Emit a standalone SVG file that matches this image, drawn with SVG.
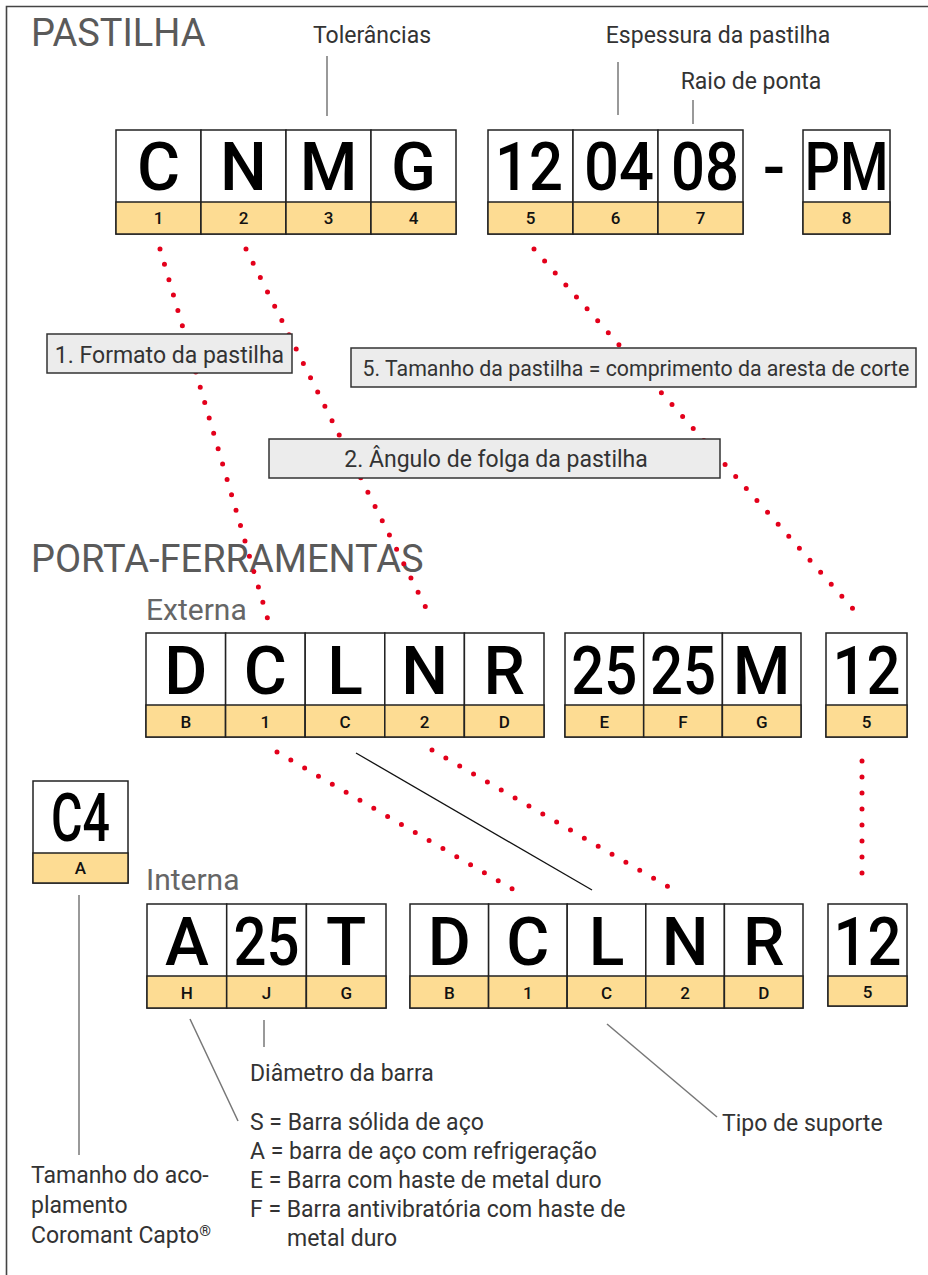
<svg xmlns="http://www.w3.org/2000/svg" width="928" height="1275" viewBox="0 0 928 1275">
<style>
.frame{fill:none;stroke:#444;stroke-width:1.6}
.cell{fill:#fff;stroke:#222;stroke-width:1.5}
.band{fill:#fddc93;stroke:#222;stroke-width:1.5}
.big{font-family:Roboto,"Liberation Sans",sans-serif;font-weight:500;font-size:66px;fill:#000;text-anchor:middle}
.lbl{font-family:Roboto,"Liberation Sans",sans-serif;font-weight:500;font-size:17px;fill:#111;text-anchor:middle}
.title{font-family:Roboto,"Liberation Sans",sans-serif;font-size:38px;fill:#5a5a5a}
.sub{font-family:Roboto,"Liberation Sans",sans-serif;font-size:30px;fill:#666}
.txt{font-family:Roboto,"Liberation Sans",sans-serif;font-size:23px;fill:#333}
.txts{font-family:Roboto,"Liberation Sans",sans-serif;font-size:21.3px;fill:#333}
.mid{text-anchor:middle}
.note{fill:#ececec;stroke:#333;stroke-width:1.5}
.dots{fill:none;stroke:#e3001b;stroke-width:5;stroke-linecap:round;stroke-dasharray:0 16}
.lead{stroke:#777;stroke-width:1.5;fill:none}
.blk{stroke:#111;stroke-width:1.3;fill:none}
</style>
<path class="frame" d="M6.5 1275V6.5H928"/>
<text class="title" x="31" y="46">PASTILHA</text>
<text class="title" x="31" y="572">PORTA-FERRAMENTAS</text>
<text class="sub" x="146" y="620">Externa</text>
<text class="sub" x="146" y="890">Interna</text>
<g id="label-tolerancias"><text class="txt mid" x="372" y="43">Tolerâncias</text></g>
<g id="label-espessura"><text class="txt mid" x="718" y="43">Espessura da pastilha</text></g>
<g id="label-raio"><text class="txt mid" x="751" y="89">Raio de ponta</text></g>

<g id="connectors">
<line class="lead" x1="327" y1="56" x2="327" y2="116"/>
<line class="lead" x1="618" y1="62" x2="618" y2="115"/>
<line class="lead" x1="693" y1="100" x2="693" y2="124"/>
<line class="dots" x1="160" y1="249" x2="268" y2="620"/>
<line class="dots" x1="246" y1="249" x2="432" y2="620"/>
<line class="dots" x1="534" y1="249" x2="863" y2="620"/>
<line class="dots" x1="277" y1="752" x2="514" y2="890"/>
<line class="dots" x1="432" y1="750" x2="674" y2="890"/>
<line class="dots" x1="862" y1="761" x2="862" y2="887"/>
<line class="blk" x1="356" y1="753" x2="592" y2="890"/>
<line class="lead" x1="79" y1="895" x2="79" y2="1155"/>
<line class="lead" x1="190" y1="1019" x2="238" y2="1121"/>
<line class="lead" x1="264" y1="1020" x2="264" y2="1047"/>
<line class="lead" x1="607" y1="1024" x2="717" y2="1117"/>
</g>

<g id="note-1"><rect class="note" x="47" y="334" width="245" height="39"/><text class="txt mid" x="169.5" y="363">1. Formato da pastilha</text></g>
<g id="note-5"><rect class="note" x="351" y="348" width="565" height="39"/><text class="txts mid" x="636" y="376">5. Tamanho da pastilha = comprimento da aresta de corte</text></g>
<g id="note-2"><rect class="note" x="269" y="439" width="451" height="39"/><text class="txt mid" x="496" y="467">2. Ângulo de folga da pastilha</text></g>

<g id="insert-cnmg">
<rect class="cell" x="116" y="130" width="85" height="104"/><rect class="band" x="116" y="202" width="85" height="32"/>
<rect class="cell" x="201" y="130" width="85" height="104"/><rect class="band" x="201" y="202" width="85" height="32"/>
<rect class="cell" x="286" y="130" width="85" height="104"/><rect class="band" x="286" y="202" width="85" height="32"/>
<rect class="cell" x="371" y="130" width="85" height="104"/><rect class="band" x="371" y="202" width="85" height="32"/>
<text class="big" x="158.5" y="190">C</text><text class="big" x="243.5" y="190">N</text><text class="big" x="328.5" y="190">M</text><text class="big" x="413.5" y="190">G</text>
<text class="lbl" x="158.5" y="224">1</text><text class="lbl" x="243.5" y="224">2</text><text class="lbl" x="328.5" y="224">3</text><text class="lbl" x="413.5" y="224">4</text>
</g>
<g id="insert-120408">
<rect class="cell" x="488" y="130" width="85" height="104"/><rect class="band" x="488" y="202" width="85" height="32"/>
<rect class="cell" x="573" y="130" width="85" height="104"/><rect class="band" x="573" y="202" width="85" height="32"/>
<rect class="cell" x="658" y="130" width="85" height="104"/><rect class="band" x="658" y="202" width="85" height="32"/>
<text class="big" x="529" y="190" textLength="68" lengthAdjust="spacingAndGlyphs">12</text><text class="big" x="619" y="190" textLength="70" lengthAdjust="spacingAndGlyphs">04</text><text class="big" x="705" y="190" textLength="68" lengthAdjust="spacingAndGlyphs">08</text>
<text class="lbl" x="530.5" y="224">5</text><text class="lbl" x="615.5" y="224">6</text><text class="lbl" x="700.5" y="224">7</text>
</g>
<g id="dash"><text class="big" x="774" y="190">-</text></g>
<g id="insert-pm">
<rect class="cell" x="803" y="130" width="87" height="104"/><rect class="band" x="803" y="202" width="87" height="32"/>
<text class="big" x="846.5" y="190" textLength="84" lengthAdjust="spacingAndGlyphs">PM</text>
<text class="lbl" x="846.5" y="224">8</text>
</g>

<g id="ext-dclnr">
<rect class="cell" x="146" y="633" width="79.6" height="104"/><rect class="band" x="146" y="705" width="79.6" height="32"/>
<rect class="cell" x="225.6" y="633" width="79.6" height="104"/><rect class="band" x="225.6" y="705" width="79.6" height="32"/>
<rect class="cell" x="305.2" y="633" width="79.6" height="104"/><rect class="band" x="305.2" y="705" width="79.6" height="32"/>
<rect class="cell" x="384.8" y="633" width="79.6" height="104"/><rect class="band" x="384.8" y="705" width="79.6" height="32"/>
<rect class="cell" x="464.4" y="633" width="79.6" height="104"/><rect class="band" x="464.4" y="705" width="79.6" height="32"/>
<text class="big" x="185.8" y="694">D</text><text class="big" x="265.4" y="694">C</text><text class="big" x="345" y="694">L</text><text class="big" x="424.6" y="694">N</text><text class="big" x="504.2" y="694">R</text>
<text class="lbl" x="185.8" y="728">B</text><text class="lbl" x="265.4" y="728">1</text><text class="lbl" x="345" y="728">C</text><text class="lbl" x="424.6" y="728">2</text><text class="lbl" x="504.2" y="728">D</text>
</g>
<g id="ext-2525m">
<rect class="cell" x="565" y="633" width="78.7" height="104"/><rect class="band" x="565" y="705" width="78.7" height="32"/>
<rect class="cell" x="643.7" y="633" width="78.7" height="104"/><rect class="band" x="643.7" y="705" width="78.7" height="32"/>
<rect class="cell" x="722.4" y="633" width="78.6" height="104"/><rect class="band" x="722.4" y="705" width="78.6" height="32"/>
<text class="big" x="604.3" y="694" textLength="66" lengthAdjust="spacingAndGlyphs">25</text><text class="big" x="683" y="694" textLength="66" lengthAdjust="spacingAndGlyphs">25</text><text class="big" x="761.7" y="694">M</text>
<text class="lbl" x="604.3" y="728">E</text><text class="lbl" x="683" y="728">F</text><text class="lbl" x="761.7" y="728">G</text>
</g>
<g id="ext-12">
<rect class="cell" x="826" y="633" width="81" height="104"/><rect class="band" x="826" y="705" width="81" height="32"/>
<text class="big" x="866.5" y="694" textLength="68" lengthAdjust="spacingAndGlyphs">12</text><text class="lbl" x="866.5" y="728">5</text>
</g>

<g id="c4">
<rect class="cell" x="33" y="781" width="95" height="102"/><rect class="band" x="33" y="853" width="95" height="30"/>
<text class="big" x="80.5" y="841" textLength="59" lengthAdjust="spacingAndGlyphs">C4</text>
<text class="lbl" x="80.5" y="874">A</text>
</g>

<g id="int-a25t">
<rect class="cell" x="147" y="904" width="79.7" height="104"/><rect class="band" x="147" y="976" width="79.7" height="32"/>
<rect class="cell" x="226.7" y="904" width="79.7" height="104"/><rect class="band" x="226.7" y="976" width="79.7" height="32"/>
<rect class="cell" x="306.4" y="904" width="79.6" height="104"/><rect class="band" x="306.4" y="976" width="79.6" height="32"/>
<text class="big" x="186.8" y="965">A</text><text class="big" x="266.5" y="965" textLength="66" lengthAdjust="spacingAndGlyphs">25</text><text class="big" x="346.2" y="965">T</text>
<text class="lbl" x="186.8" y="999">H</text><text class="lbl" x="266.5" y="999">J</text><text class="lbl" x="346.2" y="999">G</text>
</g>
<g id="int-dclnr">
<rect class="cell" x="410" y="904" width="78.6" height="104"/><rect class="band" x="410" y="976" width="78.6" height="32"/>
<rect class="cell" x="488.6" y="904" width="78.6" height="104"/><rect class="band" x="488.6" y="976" width="78.6" height="32"/>
<rect class="cell" x="567.2" y="904" width="78.6" height="104"/><rect class="band" x="567.2" y="976" width="78.6" height="32"/>
<rect class="cell" x="645.8" y="904" width="78.6" height="104"/><rect class="band" x="645.8" y="976" width="78.6" height="32"/>
<rect class="cell" x="724.4" y="904" width="78.6" height="104"/><rect class="band" x="724.4" y="976" width="78.6" height="32"/>
<text class="big" x="449.3" y="965">D</text><text class="big" x="527.9" y="965">C</text><text class="big" x="606.5" y="965">L</text><text class="big" x="685.1" y="965">N</text><text class="big" x="763.7" y="965">R</text>
<text class="lbl" x="449.3" y="999">B</text><text class="lbl" x="527.9" y="999">1</text><text class="lbl" x="606.5" y="999">C</text><text class="lbl" x="685.1" y="999">2</text><text class="lbl" x="763.7" y="999">D</text>
</g>
<g id="int-12">
<rect class="cell" x="828" y="904" width="79" height="102"/><rect class="band" x="828" y="976" width="79" height="30"/>
<text class="big" x="867.5" y="965" textLength="68" lengthAdjust="spacingAndGlyphs">12</text><text class="lbl" x="867.5" y="998">5</text>
</g>

<g id="label-diametro"><text class="txt" x="250" y="1081">Diâmetro da barra</text></g>
<g id="label-barra">
<text class="txt" x="250" y="1130">S = Barra sólida de aço</text>
<text class="txt" x="250" y="1159">A = barra de aço com refrigeração</text>
<text class="txt" x="250" y="1188">E = Barra com haste de metal duro</text>
<text class="txt" x="250" y="1217">F = Barra antivibratória com haste de</text>
<text class="txt" x="287" y="1246">metal duro</text>
</g>
<g id="label-tipo"><text class="txt" x="722" y="1131">Tipo de suporte</text></g>
<g id="label-tamanho">
<text class="txt" x="31" y="1183">Tamanho do aco-</text>
<text class="txt" x="31" y="1213">plamento</text>
<text class="txt" x="31" y="1243">Coromant Capto<tspan font-size="15" font-weight="700" dy="-7">®</tspan></text>
</g>
</svg>
